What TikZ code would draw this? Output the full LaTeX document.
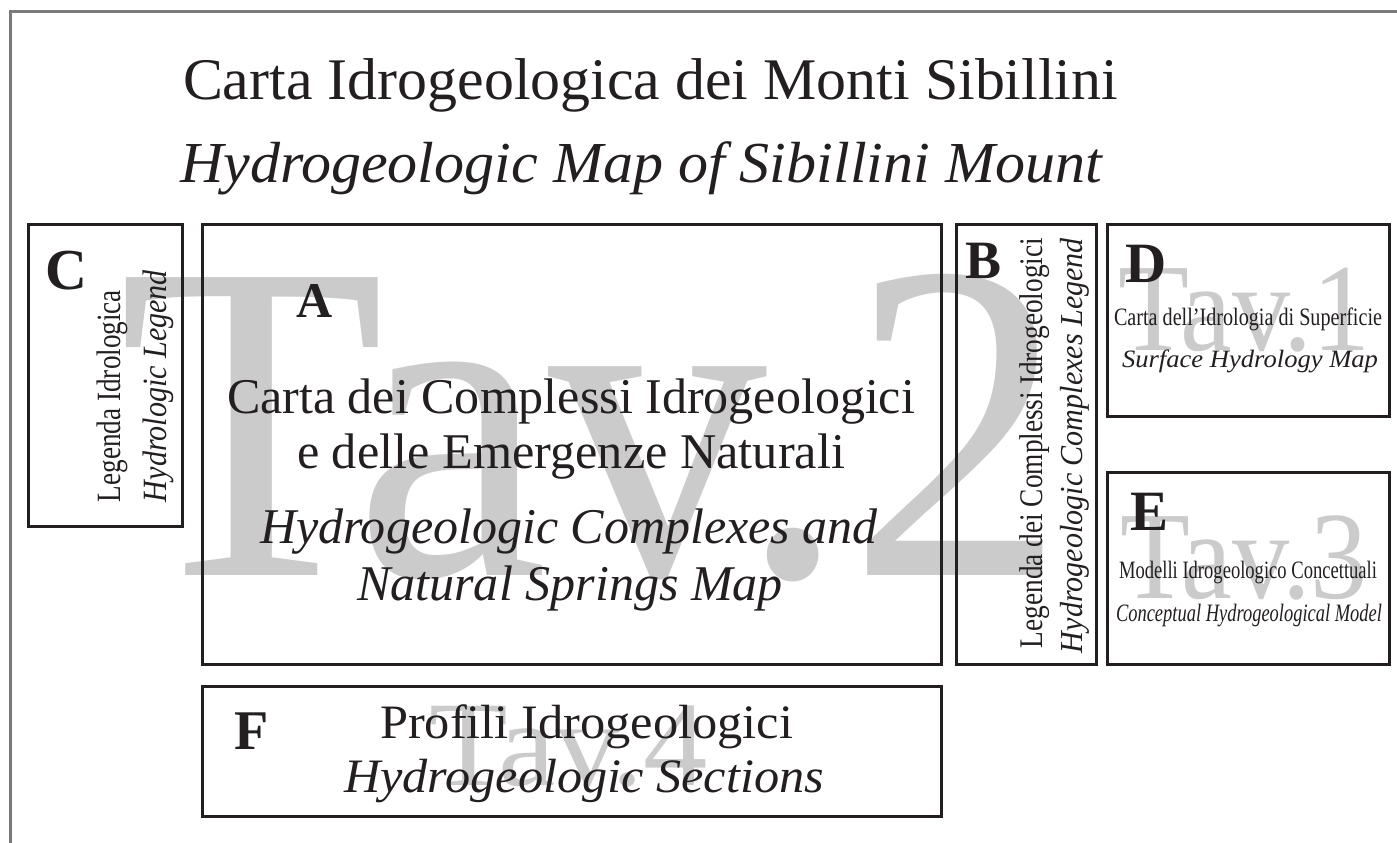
\documentclass[tikz,border=0pt]{standalone}
\usepackage{fontspec}
\setmainfont{Liberation Serif}
\usepackage{graphicx}
\definecolor{ink}{HTML}{231F20}
\definecolor{wm}{HTML}{CBCBCB}
\definecolor{frame}{HTML}{7A7A7A}
\newcommand{\fitt}[3]{\resizebox{#1pt}{\height}{\fontsize{#2}{#2}\selectfont #3}}
\newcommand{\fiti}[3]{\resizebox{#1pt}{\height}{\fontsize{#2}{#2}\selectfont\itshape #3}}
\newcommand{\bletter}[2]{{\fontsize{#1}{#1}\selectfont\bfseries #2}}
\begin{document}
\begin{tikzpicture}[x=1pt,y=-1pt,
  panel/.style={draw=ink,line width=2.8pt,inner sep=0pt,anchor=north west},
  txt/.style={inner sep=0pt,outer sep=0pt,anchor=base west,text=ink},
  vtxt/.style={inner sep=0pt,outer sep=0pt,anchor=base west,text=ink,rotate=90},
  wmark/.style={inner sep=0pt,outer sep=0pt,anchor=base west,text=wm}]
\useasboundingbox (0,0) rectangle (1397,843);
\fill[white] (0,0) rectangle (1397,843);
% outer frame (only top and left visible)
\coordinate (fb) at (10,843);
\coordinate (ftl) at (10,12);
\coordinate (fr) at (1397,12);
\draw[frame,line width=3pt] (fb) -- (ftl) -- (fr);
% watermarks
\node[wmark] (wm2) at (118,575) {\fitt{948}{455}{Tav.2}};
\node[wmark] (wm1) at (1118,350) {\fitt{252}{125}{Tav.1}};
\node[wmark] (wm3) at (1120,598) {\fitt{248}{125}{Tav.3}};
\node[wmark] (wm4) at (429,785) {\fitt{279}{121}{Tav.4}};
% panels
\node[panel,minimum width=154pt,minimum height=302pt] (boxC) at (27,223) {};
\node[panel,minimum width=739pt,minimum height=440pt] (boxA) at (201,223) {};
\node[panel,minimum width=140pt,minimum height=440pt] (boxB) at (955,223) {};
\node[panel,minimum width=282pt,minimum height=192pt] (boxD) at (1106,223) {};
\node[panel,minimum width=282pt,minimum height=192pt] (boxE) at (1106,471) {};
\node[panel,minimum width=739pt,minimum height=130pt] (boxF) at (201,685) {};
% title
\node[txt] (t1) at (183,99) {\fitt{935}{59}{Carta Idrogeologica dei Monti Sibillini}};
\node[txt] (t2) at (180,182) {\fiti{922}{58}{Hydrogeologic Map of Sibillini Mount}};
% A
\node[txt] (lA) at (296,317) {\bletter{50}{A}};
\node[txt] (a1) at (227,413) {\fitt{688}{50}{Carta dei Complessi Idrogeologici}};
\node[txt] (a2) at (297,468) {\fitt{548}{50}{e delle Emergenze Naturali}};
\node[txt] (a3) at (260,543) {\fiti{618}{50}{Hydrogeologic Complexes and}};
\node[txt] (a4) at (357,600) {\fiti{426}{50}{Natural Springs Map}};
% F
\node[txt] (lF) at (234,749) {\bletter{56}{F}};
\node[txt] (f1) at (380,738) {\fitt{413}{48}{Profili Idrogeologici}};
\node[txt] (f2) at (344,792) {\fiti{480}{48}{Hydrogeologic Sections}};
% B
\node[txt] (lB) at (965,278) {\bletter{54}{B}};
\node[vtxt] (b1) at (1042,648) {\fitt{410}{33}{Legenda dei Complessi Idrogeologici}};
\node[vtxt] (b2) at (1082,653) {\fiti{415}{32}{Hydrogeologic Complexes Legend}};
% C
\node[txt] (lC) at (45,289) {\bletter{58}{C}};
\node[vtxt] (c1) at (120,502) {\fitt{212}{34}{Legenda Idrologica}};
\node[vtxt] (c2) at (166,502) {\fiti{232}{34}{Hydrologic Legend}};
% D
\node[txt] (lD) at (1125,282) {\bletter{57}{D}};
\node[txt] (d1) at (1114,325) {\fitt{268}{25}{Carta dell’Idrologia di Superficie}};
\node[txt] (d2) at (1122,367) {\fiti{256}{25}{Surface Hydrology Map}};
% E
\node[txt] (lE) at (1130,530) {\bletter{57}{E}};
\node[txt] (e1) at (1119,578) {\fitt{258}{25}{Modelli Idrogeologico Concettuali}};
\node[txt] (e2) at (1116,621) {\fiti{266}{25}{Conceptual Hydrogeological Model}};
\end{tikzpicture}
\end{document}
